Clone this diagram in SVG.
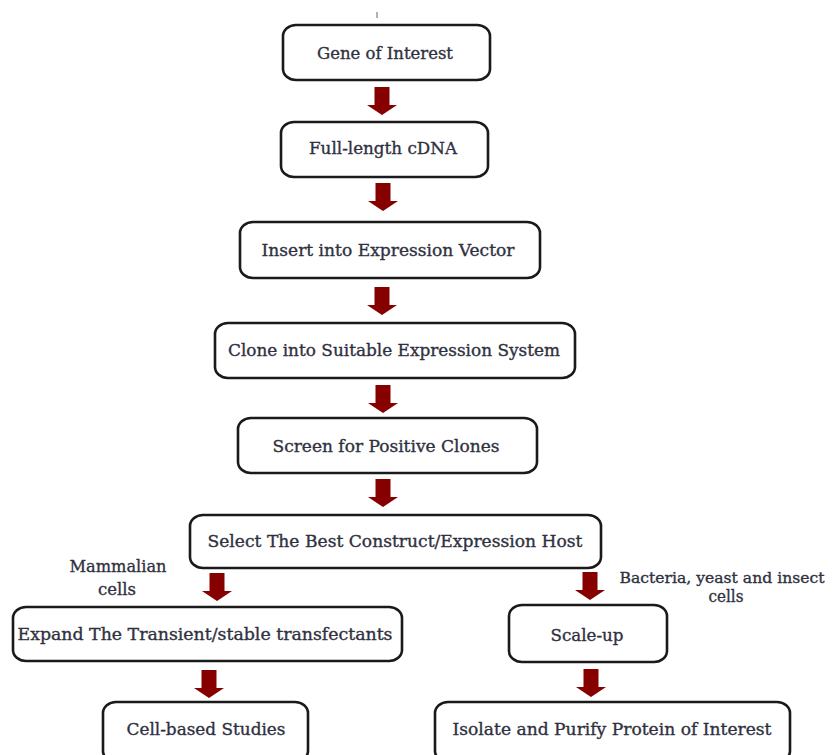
<svg xmlns="http://www.w3.org/2000/svg" xmlns:xlink="http://www.w3.org/1999/xlink" width="834" height="755" viewBox="0 0 834 755">
<style>
.box{fill:#fff;stroke:#1a1a1a;stroke-width:2.6}
.t{font-family:"DejaVu Serif","Liberation Serif",serif;font-size:17px;fill:#2f3140;stroke:#2f3140;stroke-width:0.35;text-anchor:middle}
.s{font-size:15.5px}
.arr{fill:#860000}
</style>
<defs>
<path id="arr" d="M-7.5,0 H7.5 V18 H15 L0,28 L-15,18 H-7.5 Z"/>
</defs>
<rect width="834" height="755" fill="#fff"/>
<line x1="377" y1="12" x2="377" y2="18" stroke="#999" stroke-width="1.5"/>
<g id="connectors" class="arr">
<use xlink:href="#arr" x="382" y="87"/>
<use xlink:href="#arr" x="383" y="183"/>
<use xlink:href="#arr" x="382" y="287"/>
<use xlink:href="#arr" x="383" y="385"/>
<use xlink:href="#arr" x="383" y="479"/>
<use xlink:href="#arr" x="217" y="573"/>
<use xlink:href="#arr" x="590" y="572"/>
<use xlink:href="#arr" x="209" y="670"/>
<use xlink:href="#arr" x="591" y="669"/>
</g>
<g id="n1"><rect class="box" x="283" y="25" width="207" height="55" rx="13" ry="11"/><text class="t" x="385" y="59" textLength="136" lengthAdjust="spacingAndGlyphs">Gene of Interest</text></g>
<g id="n2"><rect class="box" x="281" y="122" width="207" height="55" rx="13" ry="11"/><text class="t" x="383" y="154" textLength="148" lengthAdjust="spacingAndGlyphs">Full-length cDNA</text></g>
<g id="n3"><rect class="box" x="240" y="222" width="300" height="56" rx="13" ry="11"/><text class="t" x="388" y="256" textLength="253" lengthAdjust="spacingAndGlyphs">Insert into Expression Vector</text></g>
<g id="n4"><rect class="box" x="215" y="323" width="360" height="55" rx="13" ry="11"/><text class="t" x="394" y="356" textLength="332" lengthAdjust="spacingAndGlyphs">Clone into Suitable Expression System</text></g>
<g id="n5"><rect class="box" x="238" y="418" width="299" height="55" rx="13" ry="11"/><text class="t" x="386" y="452" textLength="227" lengthAdjust="spacingAndGlyphs">Screen for Positive Clones</text></g>
<g id="n6"><rect class="box" x="190" y="515" width="411" height="53" rx="13" ry="11"/><text class="t" x="395" y="547" textLength="375" lengthAdjust="spacingAndGlyphs">Select The Best Construct/Expression Host</text></g>
<g id="l1"><text class="t" x="118" y="572" textLength="97" lengthAdjust="spacingAndGlyphs">Mammalian</text><text class="t" x="117" y="595" textLength="38" lengthAdjust="spacingAndGlyphs">cells</text></g>
<g id="l2"><text class="t s" x="722" y="583" textLength="205" lengthAdjust="spacingAndGlyphs">Bacteria, yeast and insect</text><text class="t" x="726" y="602" textLength="35" lengthAdjust="spacingAndGlyphs">cells</text></g>
<g id="n7"><rect class="box" x="13" y="607" width="389" height="54" rx="13" ry="11"/><text class="t" x="205" y="640" textLength="375" lengthAdjust="spacingAndGlyphs">Expand The Transient/stable transfectants</text></g>
<g id="n8"><rect class="box" x="509" y="605" width="158" height="57" rx="13" ry="11"/><text class="t" x="587" y="641" textLength="73" lengthAdjust="spacingAndGlyphs">Scale-up</text></g>
<g id="n9"><rect class="box" x="103" y="702" width="205" height="60" rx="13" ry="11"/><text class="t" x="206" y="735" textLength="159" lengthAdjust="spacingAndGlyphs">Cell-based Studies</text></g>
<g id="n10"><rect class="box" x="435" y="702" width="355" height="60" rx="13" ry="11"/><text class="t" x="612" y="735" textLength="319" lengthAdjust="spacingAndGlyphs">Isolate and Purify Protein of Interest</text></g>
</svg>
